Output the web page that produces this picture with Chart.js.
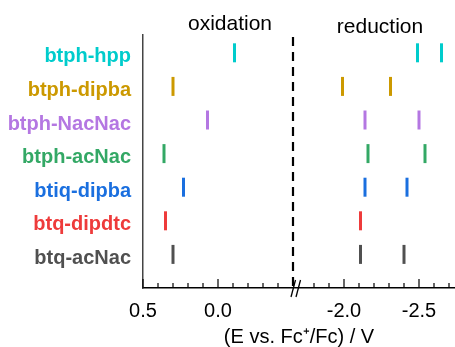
<!DOCTYPE html>
<html>
<head>
<meta charset="utf-8">
<script src="https://cdn.jsdelivr.net/npm/chart.js@4/dist/chart.umd.min.js"></script>
<style>
  html, body { margin: 0; padding: 0; background: #fff; }
  #wrap { width: 455px; height: 347px; }
</style>
</head>
<body>
<div id="wrap"><canvas id="chart" width="455" height="347"></canvas></div>
<script>
// compounds, top to bottom
const COMPOUNDS = ['btph-hpp', 'btph-dipba', 'btph-NacNac', 'btph-acNac', 'btiq-dipba', 'btq-dipdtc', 'btq-acNac'];
// potentials in V vs Fc+/Fc
const OXIDATION   = [-0.11, 0.30, 0.07, 0.36, 0.23, 0.35, 0.30];
const REDUCTION_1 = [-2.49, -1.99, -2.14, -2.16, -2.14, -2.11, -2.11];
const REDUCTION_2 = [-2.65, -2.31, -2.50, -2.54, -2.42, null, -2.40];
const MAJOR_TICKS = [0.5, 0.0, -2.0, -2.5];

const COLORS = ['#00CCCC', '#CC9900', '#B477E2', '#33A865', '#1A6FDF', '#EE3B3B', '#505050'];
const FONT = 'Liberation Sans, Arial, sans-serif';

// broken axis: reduction side is pulled left by GAP volts
const GAP = 1.16;
const BREAK = -0.5;
const shift = v => (v < -1 ? v + GAP : v);
const unshift = c => (c < BREAK ? c - GAP : c);
const round1 = v => Math.round(v * 10) / 10;

const xTicks = [];
for (let k = 0; k <= 9; k++) xTicks.push({ value: round1(0.5 - k * 0.1) });
for (let k = 0; k <= 9; k++) xTicks.push({ value: shift(round1(-1.8 - k * 0.1)) });

function xLabel(c) {
    const v = round1(unshift(c));
    return MAJOR_TICKS.some(m => Math.abs(m - v) < 1e-6) ? v.toFixed(1) : '';
}

const datasets = COMPOUNDS.map((name, i) => ({
    label: name,
    data: [OXIDATION[i], REDUCTION_1[i], REDUCTION_2[i]]
        .filter(v => v !== null)
        .map(v => ({ x: shift(v), y: i })),
    showLine: false,
    pointStyle: 'line',
    pointRotation: 90,
    pointRadius: 9.5,
    pointBorderWidth: 3,
    pointBorderColor: COLORS[i],
    pointBackgroundColor: COLORS[i]
}));

// inward ticks, dashed separator, break marks and the two region labels
const extras = {
    id: 'extras',
    afterDraw(chart) {
        const { ctx, chartArea: area } = chart;
        const x = chart.scales.x;
        ctx.save();
        ctx.strokeStyle = '#000';
        ctx.lineWidth = 1.2;
        for (const t of x.ticks) {
            const px = x.getPixelForValue(t.value);
            const len = xLabel(t.value) ? 9 : 5;
            ctx.beginPath();
            ctx.moveTo(px, area.bottom);
            ctx.lineTo(px, area.bottom - len);
            ctx.stroke();
        }

        const bx = x.getPixelForValue(BREAK);
        ctx.lineWidth = 2.2;
        ctx.setLineDash([9, 6]);
        ctx.beginPath();
        ctx.moveTo(bx, 37);
        ctx.lineTo(bx, area.bottom);
        ctx.stroke();
        ctx.setLineDash([]);

        ctx.lineWidth = 1.3;
        for (const dx of [0, 5]) {
            ctx.beginPath();
            ctx.moveTo(bx - 2 + dx, area.bottom + 9);
            ctx.lineTo(bx + 2.5 + dx, area.bottom - 8);
            ctx.stroke();
        }

        ctx.fillStyle = '#000';
        ctx.font = '21px ' + FONT;
        ctx.textAlign = 'center';
        ctx.textBaseline = 'alphabetic';
        ctx.fillText('oxidation', x.getPixelForValue(shift(-0.08)), 30);
        ctx.fillText('reduction', x.getPixelForValue(shift(-2.24)), 33);
        ctx.restore();
    }
};

new Chart(document.getElementById('chart'), {
    type: 'scatter',
    data: { datasets },
    plugins: [extras],
    options: {
        responsive: false,
        animation: false,
        events: [],
        layout: { autoPadding: false, padding: { top: 35, right: 0, bottom: 0, left: 0 } },
        plugins: { legend: { display: false }, tooltip: { enabled: false } },
        scales: {
            x: {
                type: 'linear',
                reverse: true,
                min: -1.58,
                max: 0.5,
                afterBuildTicks: axis => { axis.ticks = xTicks.map(t => ({ value: t.value })); },
                afterFit: axis => {
                    axis.height = 59;
                    axis.paddingLeft = 0;
                    axis.paddingRight = 0;
                },
                grid: { display: false },
                border: { display: true, color: '#000', width: 1.5 },
                ticks: {
                    autoSkip: false,
                    maxRotation: 0,
                    minRotation: 0,
                    padding: 3,
                    color: '#000',
                    font: { family: FONT, size: 20 },
                    callback: v => xLabel(v)
                },
                title: {
                    display: true,
                    text: '(E vs. Fc\u207A/Fc) / V',
                    color: '#000',
                    font: { family: FONT, size: 20 },
                    padding: { top: 0, bottom: -2 }
                }
            },
            y: {
                type: 'linear',
                reverse: true,
                min: -0.53,
                max: 7,
                afterBuildTicks: axis => { axis.ticks = COMPOUNDS.map((_, i) => ({ value: i })); },
                afterFit: axis => { axis.width = 143; },
                grid: { display: false },
                border: { display: true, color: '#444', width: 1.5 },
                ticks: {
                    padding: 4,
                    labelOffset: 4,
                    font: { family: FONT, size: 20, weight: 'bold' },
                    color: c => COLORS[c.tick.value],
                    callback: v => COMPOUNDS[v]
                }
            }
        }
    }
});
</script>
</body>
</html>
